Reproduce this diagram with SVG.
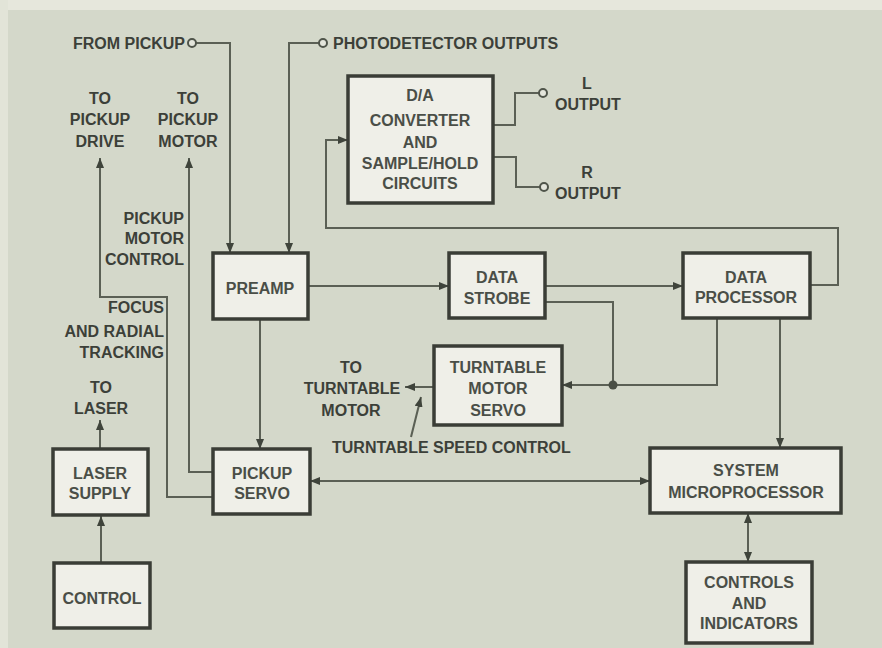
<svg xmlns="http://www.w3.org/2000/svg" width="882" height="648" viewBox="0 0 882 648">
<defs>
<style>
.bg{fill:#d4d8ca}
.box rect{fill:#efefe8;stroke:#3a3d36;stroke-width:3.5}
.box text,.lbl{font-family:"Liberation Sans",Arial,sans-serif;font-weight:bold;font-size:16px;text-anchor:middle}
.box text{fill:#4a4e47}
.lbl{fill:#3c4039}
.r{text-anchor:end}
.st{text-anchor:start}
.wire{fill:none;stroke:#5b6055;stroke-width:2}
.term{fill:#e4e6dc;stroke:#4f544a;stroke-width:2}
</style>
<marker id="ah" viewBox="0 0 10 8" refX="10" refY="4" markerWidth="10" markerHeight="8" markerUnits="userSpaceOnUse" orient="auto-start-reverse">
<path d="M0,0 L10,4 L0,8 z" fill="#3f443b"/>
</marker>
</defs>
<rect class="bg" x="0" y="0" width="882" height="648"/>
<rect x="0" y="0" width="882" height="10" fill="#e6e7dc"/>
<rect x="0" y="0" width="8" height="648" fill="#e2e4d8"/>

<g id="connectors">
<path class="wire" d="M196,43 H230 V253" marker-end="url(#ah)"/>
<path class="wire" d="M319,43 H289 V253" marker-end="url(#ah)"/>
<path class="wire" d="M213,497 H167 V297 H100 V158" marker-end="url(#ah)"/>
<path class="wire" d="M213,472 H189 V158" marker-end="url(#ah)"/>
<path class="wire" d="M100,449 V420" marker-end="url(#ah)"/>
<path class="wire" d="M101,563 V516" marker-end="url(#ah)"/>
<path class="wire" d="M308,286 H449" marker-end="url(#ah)"/>
<path class="wire" d="M260,319 V449" marker-end="url(#ah)"/>
<path class="wire" d="M545,286 H683" marker-end="url(#ah)"/>
<path class="wire" d="M545,302 H613 V385"/>
<path class="wire" d="M717,318 V385 H562" marker-end="url(#ah)"/>
<path class="wire" d="M810,285 H838 V228 H326 V140 H348" marker-end="url(#ah)"/>
<path class="wire" d="M493,125 H515 V93 H539"/>
<path class="wire" d="M493,157 H516 V187 H540"/>
<path class="wire" d="M780,318 V448" marker-end="url(#ah)"/>
<path class="wire" d="M310,481 H650" marker-start="url(#ah)" marker-end="url(#ah)"/>
<path class="wire" d="M748,513 V562" marker-start="url(#ah)" marker-end="url(#ah)"/>
<path class="wire" d="M434,387 H405" marker-end="url(#ah)"/>
<path class="wire" d="M411,437 L421,397" stroke="#2f322c" stroke-width="2.5" marker-end="url(#ah)"/>
<circle cx="613" cy="385" r="4.5" fill="#4a4f45"/>
<circle class="term" cx="192" cy="43" r="4"/>
<circle class="term" cx="323" cy="43" r="4"/>
<circle class="term" cx="543" cy="93" r="4"/>
<circle class="term" cx="544" cy="187" r="4"/>
</g>

<g id="labels">
<text class="lbl r" x="185" y="49">FROM PICKUP</text>
<text class="lbl st" x="333" y="49">PHOTODETECTOR OUTPUTS</text>
<text class="lbl" x="100" y="104">TO</text>
<text class="lbl" x="100" y="125">PICKUP</text>
<text class="lbl" x="100" y="147">DRIVE</text>
<text class="lbl" x="188" y="104">TO</text>
<text class="lbl" x="188" y="125">PICKUP</text>
<text class="lbl" x="188" y="147">MOTOR</text>
<text class="lbl r" x="184" y="224">PICKUP</text>
<text class="lbl r" x="184" y="244">MOTOR</text>
<text class="lbl r" x="184" y="265">CONTROL</text>
<text class="lbl r" x="164" y="313">FOCUS</text>
<text class="lbl r" x="164" y="337">AND RADIAL</text>
<text class="lbl r" x="164" y="358">TRACKING</text>
<text class="lbl" x="101" y="393">TO</text>
<text class="lbl" x="101" y="414">LASER</text>
<text class="lbl" x="587" y="89">L</text>
<text class="lbl st" x="555" y="110">OUTPUT</text>
<text class="lbl" x="587" y="178">R</text>
<text class="lbl st" x="555" y="199">OUTPUT</text>
<text class="lbl" x="351" y="373">TO</text>
<text class="lbl" x="352" y="394">TURNTABLE</text>
<text class="lbl" x="351" y="416">MOTOR</text>
<text class="lbl st" x="332" y="453">TURNTABLE SPEED CONTROL</text>
</g>

<g id="da" class="box">
<rect x="348" y="76" width="145" height="127"/>
<text x="420" y="101">D/A</text>
<text x="420" y="126">CONVERTER</text>
<text x="420" y="148">AND</text>
<text x="420" y="169">SAMPLE/HOLD</text>
<text x="420" y="189">CIRCUITS</text>
</g>
<g id="preamp" class="box">
<rect x="213" y="253" width="95" height="66"/>
<text x="260" y="294">PREAMP</text>
</g>
<g id="strobe" class="box">
<rect x="449" y="253" width="96" height="65"/>
<text x="497" y="283">DATA</text>
<text x="497" y="304">STROBE</text>
</g>
<g id="processor" class="box">
<rect x="683" y="253" width="127" height="65"/>
<text x="746" y="283">DATA</text>
<text x="746" y="303">PROCESSOR</text>
</g>
<g id="turntable" class="box">
<rect x="434" y="346" width="128" height="79"/>
<text x="498" y="373">TURNTABLE</text>
<text x="498" y="394">MOTOR</text>
<text x="498" y="416">SERVO</text>
</g>
<g id="pickupservo" class="box">
<rect x="213" y="449" width="97" height="65"/>
<text x="262" y="479">PICKUP</text>
<text x="262" y="499">SERVO</text>
</g>
<g id="laser" class="box">
<rect x="53" y="449" width="95" height="66"/>
<text x="100" y="479">LASER</text>
<text x="100" y="499">SUPPLY</text>
</g>
<g id="control" class="box">
<rect x="54" y="563" width="96" height="65"/>
<text x="102" y="604">CONTROL</text>
</g>
<g id="sysmicro" class="box">
<rect x="650" y="448" width="191" height="65"/>
<text x="746" y="476">SYSTEM</text>
<text x="746" y="498">MICROPROCESSOR</text>
</g>
<g id="controls" class="box">
<rect x="686" y="562" width="126" height="81"/>
<text x="749" y="588">CONTROLS</text>
<text x="749" y="609">AND</text>
<text x="749" y="629">INDICATORS</text>
</g>
</svg>
